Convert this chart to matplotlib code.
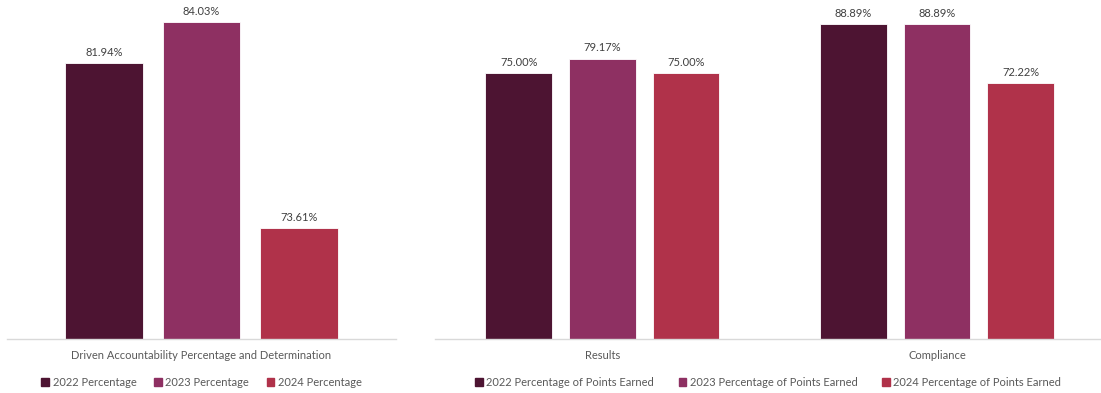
import numpy as np
import matplotlib.pyplot as plt
from matplotlib.patches import Patch

plt.rcParams['font.family'] = ['Lato', 'DejaVu Sans']

# Data
left_cats = ["Driven Accountability Percentage and Determination"]
left_series = ["2022 Percentage", "2023 Percentage", "2024 Percentage"]
left_vals = [[81.94], [84.03], [73.61]]

right_cats = ["Results", "Compliance"]
right_series = ["2022 Percentage of Points Earned",
                "2023 Percentage of Points Earned",
                "2024 Percentage of Points Earned"]
right_vals = [[75.00, 88.89], [79.17, 88.89], [75.00, 72.22]]

colors = ["#4D1432", "#8E3062", "#B0324A"]
txt = "#404040"

fig = plt.figure(figsize=(11.01, 3.93), dpi=100)
ax1 = fig.add_axes([0.0064, 0.1374, 0.3533, 0.8244])
ax2 = fig.add_axes([0.3951, 0.1374, 0.6049, 0.8244])


def draw(ax, cats, series, vals, ylim, xlim, colsp):
    x = np.arange(len(cats))
    width = 0.2
    offs = [-0.25, 0, 0.25]
    for i, (name, v) in enumerate(zip(series, vals)):
        bars = ax.bar(x + offs[i], v, width, color=colors[i], label=name,
                      edgecolor="white", linewidth=0.6)
        for b, val in zip(bars, v):
            ax.annotate(f"{val:.2f}%", (b.get_x() + b.get_width() / 2, val),
                        xytext=(0, 4), textcoords="offset points",
                        ha="center", va="bottom", fontsize=8, color=txt)
    ax.set_ylim(*ylim)
    ax.set_xlim(*xlim)
    ax.set_xticks(x)
    ax.set_xticklabels(cats, fontsize=8, color="#595959")
    ax.tick_params(axis="x", length=0, pad=8)
    ax.set_yticks([])
    for s in ["top", "right", "left"]:
        ax.spines[s].set_visible(False)
    ax.spines["bottom"].set_color("#D9D9D9")
    ax.spines["bottom"].set_linewidth(1.0)
    handles = [Patch(color=c) for c in colors]
    ax.legend(handles, series, loc="center", bbox_to_anchor=(0.5, -0.133),
              ncol=3, frameon=False, fontsize=8, handlelength=0.7,
              handleheight=0.7, handletextpad=0.3, columnspacing=colsp,
              labelcolor="#595959")


draw(ax1, left_cats, left_series, left_vals, (68.0, 84.39), (-0.5, 0.5), 1.6)
draw(ax2, right_cats, right_series, right_vals, (0, 91.5), (-0.5, 1.49), 2.2)

fig.savefig("out.png", dpi=100)
